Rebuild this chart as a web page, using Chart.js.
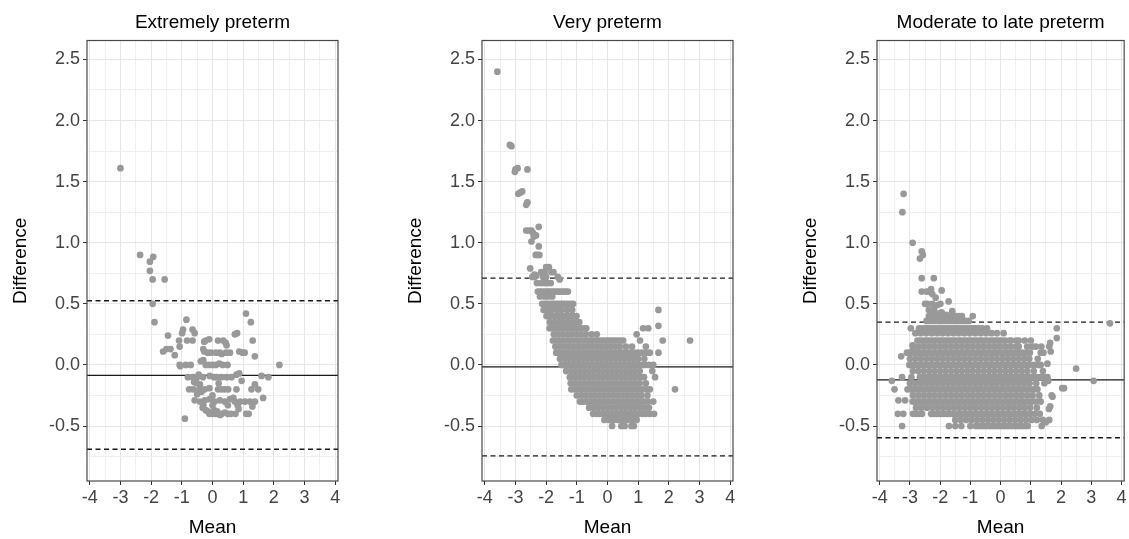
<!DOCTYPE html>
<html><head><meta charset="utf-8">
<script src="https://cdn.jsdelivr.net/npm/chart.js@4.4.1/dist/chart.umd.min.js"></script>
<style>
html,body{margin:0;padding:0;background:#fff;width:1129px;height:539px;overflow:hidden}
.p{position:absolute;top:0;height:539px}
</style></head><body>
<div class="p" style="left:0;width:395px"><canvas id="c0"></canvas></div>
<div class="p" style="left:395px;width:395px"><canvas id="c1"></canvas></div>
<div class="p" style="left:790px;width:339px"><canvas id="c2"></canvas></div>
<script>
// ---------- data ----------
const panelTitles = ['Extremely preterm', 'Very preterm', 'Moderate to late preterm'];
const meanDiff = [-0.085, -0.016, -0.123];
const upperLoA = [0.525, 0.71, 0.35];
const lowerLoA = [-0.69, -0.745, -0.596];
const xRange = [-4.09, 4.09];
const yRange = [-0.95, 2.655];
const xGridVals = [-4,-3.5,-3,-2.5,-2,-1.5,-1,-0.5,0,0.5,1,1.5,2,2.5,3,3.5,4];
const yGridVals = [-0.75,-0.5,-0.25,0,0.25,0.5,0.75,1,1.25,1.5,1.75,2,2.25,2.5];
const xTitle = 'Mean';
const yTitle = 'Difference';

// Extremely preterm: [mean, difference]
const extremePoints = [
[-3.0,1.61],[-2.36,0.9],[-2.04,0.845],[-1.93,0.885],[-2.04,0.77],[-1.95,0.7],[-1.56,0.7],[-1.95,0.5],[-1.89,0.35],
[-0.85,0.37],[-0.96,0.29],[-0.99,0.26],[-0.65,0.29],[-0.58,0.26],[1.09,0.42],[1.25,0.35],[0.73,0.25],[0.8,0.26],[-1.45,0.24],
[-1.09,0.2],[-0.83,0.2],[-0.65,0.2],[-0.27,0.19],[-0.22,0.2],[-0.11,0.21],[0.18,0.2],[0.35,0.2],[0.43,0.18],[0.46,0.16],[1.31,0.2],
[-1.61,0.11],[-1.5,0.13],[-1.37,0.13],[-1.07,0.15],[-1.23,0.08],[-0.3,0.13],[-0.27,0.11],[-0.16,0.1],[-0.05,0.1],[0.11,0.1],[0.24,0.1],[0.3,0.09],[0.44,0.1],[0.57,0.1],[0.87,0.11],[0.98,0.1],[1.05,0.1],[1.38,0.07],
[-1.07,0.0],[-1.05,-0.01],[-0.87,0.0],[-0.71,0.0],[-0.38,0.03],[-0.3,0.04],[-0.22,0.0],[-0.11,0.0],[0.0,0.0],[0.11,0.0],[0.22,0.01],[0.33,0.0],[0.49,0.0],[2.18,0.0],
[-0.8,-0.1],[-0.63,-0.1],[-0.52,-0.11],[-0.45,-0.08],[-0.31,-0.1],[-0.09,-0.09],[0.05,-0.1],[0.13,-0.1],[0.29,-0.1],[0.46,-0.1],[0.62,-0.1],[0.78,-0.08],[0.87,-0.07],[0.95,-0.13],[1.6,-0.09],[1.82,-0.1],[1.38,-0.16],[-0.41,-0.16],[-0.52,-0.15],[0.2,-0.15],[-0.6,-0.14],
[-0.76,-0.2],[-0.63,-0.2],[-0.43,-0.2],[-0.36,-0.22],[-0.25,-0.2],[-0.1,-0.19],[0.18,-0.2],[0.29,-0.2],[0.4,-0.2],[0.51,-0.2],[0.78,-0.2],[1.27,-0.2],[1.49,-0.2],[-0.5,-0.24],[0.0,-0.25],[1.65,-0.27],
[-0.58,-0.29],[-0.41,-0.3],[-0.25,-0.29],[-0.09,-0.28],[0.07,-0.3],[0.24,-0.29],[0.4,-0.3],[0.57,-0.28],[0.68,-0.27],[0.73,-0.3],[0.9,-0.3],[1.06,-0.3],[1.22,-0.3],[1.3,-0.34],[1.38,-0.3],[-0.3,-0.33],[0.0,-0.33],[0.5,-0.33],[0.82,-0.33],
[-0.32,-0.35],[-0.22,-0.37],[-0.15,-0.38],[-0.1,-0.4],[-0.05,-0.39],[0.0,-0.4],[0.05,-0.37],[0.1,-0.4],[0.15,-0.38],[0.2,-0.4],[0.25,-0.41],[0.3,-0.4],[0.4,-0.39],[0.5,-0.4],[0.6,-0.4],[0.75,-0.4],[0.85,-0.36],[1.1,-0.4],[1.18,-0.4],[-0.9,-0.44]
];

// Very preterm: isolated points [mean, difference]
const veryPoints = [
[-3.59,2.4],[-3.18,1.8],[-3.13,1.79],[-3.0,1.6],[-2.93,1.61],[-3.02,1.58],[-2.61,1.6],[-2.91,1.4],[-2.85,1.41],[-2.78,1.42],[-2.65,1.31],[-2.61,1.33],
[-2.65,1.1],[-2.56,1.1],[-2.48,1.1],[-2.43,1.08],[-2.48,1.01],[-2.4,1.05],[-2.33,1.06],[-2.24,1.13],[-2.24,0.97],[-2.34,0.9],[-2.29,0.9],[-2.22,0.9],
[-2.52,0.79],[-2.38,0.74],[-2.32,0.73],[-1.56,0.7],[1.66,0.45],[1.66,0.32],[1.66,0.1],[1.46,-0.05],[1.52,-0.4]
];
// Very preterm: rows of [difference, means]
const veryRows = [
[0.80, [-2.0,-1.91]],
[0.76, [-2.16,-2.05,-1.83,-1.76]],
[0.72, [-2.45,-2.38,-2.1,-2.0,-1.62]],
[0.67, [-2.3,-2.16,-2.05,-1.95,-1.85]],
[0.60, [-2.27,-2.2,-2.12,-2.04,-1.96,-1.9,-1.83,-1.75,-1.68,-1.6,-1.52,-1.44,-1.36,-1.29]],
[0.56, [-2.2,-2.05,-1.93,-1.8]],
[0.50, [-2.13,-2.05,-1.97,-1.88,-1.8,-1.72,-1.64,-1.56,-1.48,-1.4,-1.3,-1.2,-1.12]],
[0.45, [-2.08,-1.95,-1.82,-1.65,-1.5,-1.32,-1.15]],
[0.40, [-1.99,-1.9,-1.82,-1.74,-1.66,-1.58,-1.5,-1.42,-1.34,-1.26,-1.18,-1.09,-1.01]],
[0.35, [-1.88,-1.72,-1.58,-1.44,-1.3,-1.16,-1.02,-0.92]],
[0.30, [-1.89,-1.8,-1.71,-1.62,-1.53,-1.44,-1.35,-1.26,-1.17,-1.08,-0.99,-0.9,-0.8,-0.69,1.16,1.33]],
[0.25, [-1.75,-1.6,-1.45,-1.3,-1.15,-1.0,-0.85,-0.7,-0.52,-0.35,0.95]],
[0.20, [-1.78,-1.68,-1.58,-1.49,-1.4,-1.31,-1.22,-1.13,-1.04,-0.95,-0.86,-0.77,-0.68,-0.59,-0.5,-0.41,-0.32,-0.23,-0.14,-0.05,0.04,0.13,0.22,0.31,0.41,0.51,1.06,1.8,2.69]],
[0.15, [-1.7,-1.55,-1.4,-1.25,-1.1,-0.95,-0.8,-0.65,-0.5,-0.35,-0.2,-0.05,0.1,0.25,0.4,0.6,0.8,1.25]],
[0.10, [-1.67,-1.58,-1.49,-1.4,-1.31,-1.22,-1.13,-1.04,-0.95,-0.86,-0.77,-0.68,-0.59,-0.5,-0.41,-0.32,-0.23,-0.14,-0.05,0.04,0.13,0.22,0.31,0.4,0.49,0.58,0.67,0.76,0.88,1.0,1.12,1.25,1.38]],
[0.05, [-1.55,-1.4,-1.25,-1.1,-0.95,-0.8,-0.65,-0.5,-0.35,-0.2,-0.05,0.1,0.25,0.4,0.55,0.7,0.85,1.0,1.2]],
[0.00, [-1.5,-1.41,-1.32,-1.23,-1.14,-1.05,-0.96,-0.87,-0.78,-0.69,-0.6,-0.51,-0.42,-0.33,-0.24,-0.15,-0.06,0.03,0.12,0.21,0.3,0.39,0.48,0.57,0.66,0.75,0.84,0.93,1.02,1.12,1.22,1.35,1.49]],
[-0.05, [-1.35,-1.2,-1.05,-0.9,-0.75,-0.6,-0.45,-0.3,-0.15,0.0,0.15,0.3,0.45,0.6,0.75,0.9,1.05]],
[-0.10, [-1.23,-1.14,-1.05,-0.96,-0.87,-0.78,-0.69,-0.6,-0.51,-0.42,-0.33,-0.24,-0.15,-0.06,0.03,0.12,0.21,0.3,0.39,0.48,0.57,0.66,0.75,0.84,0.94,1.06,1.19,1.55]],
[-0.15, [-1.2,-1.05,-0.9,-0.75,-0.6,-0.45,-0.3,-0.15,0.0,0.15,0.3,0.45,0.6,0.75,0.9,1.05,1.25]],
[-0.20, [-1.18,-1.07,-0.97,-0.87,-0.77,-0.67,-0.57,-0.47,-0.37,-0.27,-0.17,-0.07,0.03,0.13,0.23,0.33,0.43,0.53,0.63,0.73,0.83,0.93,1.03,1.15,1.27,1.38,2.2]],
[-0.25, [-1.0,-0.85,-0.7,-0.55,-0.4,-0.25,-0.1,0.05,0.2,0.35,0.5,0.65,0.8,0.95,1.1,1.3]],
[-0.30, [-0.9,-0.8,-0.7,-0.6,-0.5,-0.4,-0.3,-0.2,-0.1,0.0,0.1,0.2,0.3,0.4,0.5,0.6,0.7,0.8,0.9,1.0,1.1,1.2,1.32,1.49]],
[-0.35, [-0.6,-0.45,-0.3,-0.15,0.0,0.15,0.3,0.45,0.6,0.75,0.9,1.05,1.2,1.35]],
[-0.40, [-0.47,-0.37,-0.27,-0.17,-0.07,0.03,0.13,0.23,0.33,0.43,0.53,0.63,0.73,0.83,0.93,1.03,1.15,1.25,1.38]],
[-0.45, [-0.1,0.05,0.2,0.35,0.5,0.65,0.8,0.95]],
[-0.50, [0.15,0.45,0.56,0.78,0.86]]
];

// Moderate to late preterm: isolated points [mean, difference]
const latePoints = [
[-3.21,1.40],[-3.25,1.25],[-2.91,1.0],[-2.61,0.93],[-2.57,0.9],[-2.67,0.87],[-2.61,0.71],[-2.21,0.71],
[-2.61,0.6],[-2.45,0.6],[-2.37,0.6],[-2.26,0.58],[-2.15,0.55],[-1.95,0.61],[-2.3,0.62],
[-2.42,0.5],[-2.5,0.5],[-2.26,0.5],[-2.1,0.49],[-1.99,0.5],[-1.72,0.52],
[-2.37,0.45],[-2.3,0.43],[-2.2,0.45],[-2.05,0.42],[-1.95,0.43],[-1.8,0.41],[-1.6,0.44],
[-0.92,0.40],[-2.97,0.3],[1.86,0.3],[1.86,0.22],[3.62,0.34],[2.5,-0.03],[3.08,-0.13],[2.04,-0.19],[2.1,-0.19],
[-3.6,-0.13],[-3.51,-0.2],[-3.29,0.07],[-3.26,-0.5],[-3.4,-0.4],[-3.22,-0.4],[-3.38,-0.29],[-3.16,-0.29],[-3.26,-0.1],[-2.95,-0.1],[-2.91,0.16],[-2.91,0.12],
[1.64,0.18],[1.61,0.15],[1.66,0.11],[1.55,-0.1],[1.58,-0.13],[1.69,-0.25],[1.64,-0.34],[1.6,-0.36],[1.61,-0.45],[1.5,-0.47],[1.36,-0.5],[1.55,0.01],[1.72,-0.26]
];
// Moderate to late preterm: rows of [difference, means]
const lateRows = [
[0.40, [-2.37,-2.28,-2.18,-2.09,-2.0,-1.9,-1.81,-1.72,-1.62,-1.53,-1.44,-1.35,-1.28]],
[0.36, [-2.45,-2.35,-2.24,-2.13,-2.02,-1.92,-1.81,-1.7,-1.6,-1.49,-1.38,-1.27,-1.16,-1.05]],
[0.30, [-2.7,-2.61,-2.52,-2.43,-2.34,-2.25,-2.16,-2.07,-1.98,-1.89,-1.8,-1.71,-1.62,-1.53,-1.44,-1.35,-1.26,-1.17,-1.08,-0.99,-0.9,-0.81,-0.72,-0.6,-0.45]],
[0.26, [-2.82,-2.64,-2.46,-2.28,-2.1,-1.92,-1.74,-1.56,-1.38,-1.2,-1.02,-0.84,-0.66,-0.48,-0.3,-0.12,0.1]],
[0.20, [-2.75,-2.66,-2.57,-2.48,-2.39,-2.3,-2.21,-2.12,-2.03,-1.94,-1.85,-1.76,-1.67,-1.58,-1.49,-1.4,-1.31,-1.22,-1.13,-1.04,-0.95,-0.86,-0.77,-0.68,-0.59,-0.5,-0.41,-0.32,-0.23,-0.14,-0.05,0.05,0.16,0.3,0.35,0.52,0.6,0.8,1.0]],
[0.15, [-2.9,-2.72,-2.54,-2.36,-2.18,-2.0,-1.82,-1.64,-1.46,-1.28,-1.1,-0.92,-0.74,-0.56,-0.38,-0.2,-0.02,0.16,0.34,0.52,0.6,0.88,1.06,1.17,1.35]],
[0.10, [-3.1,-2.98,-2.87,-2.77,-2.68,-2.59,-2.5,-2.41,-2.32,-2.23,-2.14,-2.05,-1.96,-1.87,-1.78,-1.69,-1.6,-1.51,-1.42,-1.33,-1.24,-1.15,-1.06,-0.97,-0.88,-0.79,-0.7,-0.61,-0.52,-0.43,-0.34,-0.25,-0.16,-0.07,0.02,0.11,0.2,0.29,0.38,0.47,0.58,0.7,0.83,0.97,1.33,1.42]],
[0.05, [-3.0,-2.82,-2.64,-2.46,-2.28,-2.1,-1.92,-1.74,-1.56,-1.38,-1.2,-1.02,-0.84,-0.66,-0.48,-0.3,-0.12,0.06,0.24,0.42,0.6,0.78,0.95,1.23]],
[0.00, [-3.02,-2.92,-2.83,-2.74,-2.65,-2.56,-2.47,-2.38,-2.29,-2.2,-2.11,-2.02,-1.93,-1.84,-1.75,-1.66,-1.57,-1.48,-1.39,-1.3,-1.21,-1.12,-1.03,-0.94,-0.85,-0.76,-0.67,-0.58,-0.49,-0.4,-0.31,-0.22,-0.13,-0.04,0.05,0.14,0.23,0.32,0.41,0.5,0.6,0.7,0.82,0.95,1.1,1.25,1.33]],
[-0.05, [-2.9,-2.72,-2.54,-2.36,-2.18,-2.0,-1.82,-1.64,-1.46,-1.28,-1.1,-0.92,-0.74,-0.56,-0.38,-0.2,-0.02,0.16,0.34,0.52,0.7,0.88,1.1,1.4]],
[-0.10, [-2.67,-2.58,-2.49,-2.4,-2.31,-2.22,-2.13,-2.04,-1.95,-1.86,-1.77,-1.68,-1.59,-1.5,-1.41,-1.32,-1.23,-1.14,-1.05,-0.96,-0.87,-0.78,-0.69,-0.6,-0.51,-0.42,-0.33,-0.24,-0.15,-0.06,0.03,0.12,0.21,0.3,0.39,0.48,0.57,0.66,0.75,0.85,0.96,1.08,1.2,1.32,1.45]],
[-0.15, [-3.0,-2.82,-2.64,-2.46,-2.28,-2.1,-1.92,-1.74,-1.56,-1.38,-1.2,-1.02,-0.84,-0.66,-0.48,-0.3,-0.12,0.06,0.24,0.42,0.6,0.78,0.96,1.18,1.45]],
[-0.20, [-3.08,-2.97,-2.87,-2.77,-2.67,-2.58,-2.49,-2.4,-2.31,-2.22,-2.13,-2.04,-1.95,-1.86,-1.77,-1.68,-1.59,-1.5,-1.41,-1.32,-1.23,-1.14,-1.05,-0.96,-0.87,-0.78,-0.69,-0.6,-0.51,-0.42,-0.33,-0.24,-0.15,-0.06,0.03,0.12,0.21,0.3,0.39,0.48,0.57,0.66,0.75,0.85,0.97,1.1,1.22]],
[-0.25, [-2.9,-2.72,-2.54,-2.36,-2.18,-2.0,-1.82,-1.64,-1.46,-1.28,-1.1,-0.92,-0.74,-0.56,-0.38,-0.2,-0.02,0.16,0.34,0.52,0.7,0.88,1.06,1.28]],
[-0.30, [-2.91,-2.81,-2.71,-2.61,-2.52,-2.43,-2.34,-2.25,-2.16,-2.07,-1.98,-1.89,-1.8,-1.71,-1.62,-1.53,-1.44,-1.35,-1.26,-1.17,-1.08,-0.99,-0.9,-0.81,-0.72,-0.63,-0.54,-0.45,-0.36,-0.27,-0.18,-0.09,0.0,0.09,0.18,0.27,0.36,0.45,0.54,0.63,0.72,0.82,0.93,1.05,1.18,1.33]],
[-0.35, [-2.8,-2.62,-2.44,-2.26,-2.08,-1.9,-1.72,-1.54,-1.36,-1.18,-1.0,-0.82,-0.64,-0.46,-0.28,-0.1,0.08,0.26,0.44,0.62,0.8,0.98,1.2]],
[-0.40, [-2.9,-2.8,-2.7,-2.6,-2.3,-2.21,-2.12,-2.03,-1.94,-1.85,-1.76,-1.67,-1.58,-1.49,-1.4,-1.31,-1.22,-1.13,-1.04,-0.95,-0.86,-0.77,-0.68,-0.59,-0.5,-0.41,-0.32,-0.23,-0.14,-0.05,0.04,0.13,0.22,0.31,0.4,0.49,0.58,0.67,0.76,0.86,0.98,1.13,1.3]],
[-0.45, [-1.5,-1.32,-1.14,-0.96,-0.78,-0.6,-0.42,-0.24,-0.06,0.12,0.3,0.48,0.66,0.84,1.02,1.2,1.4]],
[-0.50, [-1.71,-1.5,-1.3,-1.0,-0.82,-0.73,-0.64,-0.55,-0.46,-0.37,-0.28,-0.19,-0.1,-0.01,0.08,0.17,0.26,0.35,0.44,0.53,0.62,0.71,0.8,0.9]]
];

// ---------- build ----------
const FONT = '"Liberation Sans", Arial, sans-serif';
const pairsToPts = a => a.map(([x, y]) => ({x, y}));
const rowsToPts = rows => rows.flatMap(([y, xs]) => xs.map(x => ({x, y})));
const panelPoints = [
  pairsToPts(extremePoints),
  pairsToPts(veryPoints).concat(rowsToPts(veryRows)),
  pairsToPts(latePoints).concat(rowsToPts(lateRows))
];
const isMult = (v, s) => Math.abs(v / s - Math.round(v / s)) < 1e-6;

const framePlugin = {
  id: 'frame',
  afterDraw(chart) {
    const {ctx, chartArea: a} = chart;
    ctx.save();
    ctx.strokeStyle = '#4a4a4a';
    ctx.lineWidth = 1.2;
    ctx.strokeRect(a.left, a.top, a.right - a.left, a.bottom - a.top);
    ctx.restore();
  }
};

function hline(v, dash) {
  return {
    data: [{x: xRange[0], y: v}, {x: xRange[1], y: v}],
    showLine: true, pointRadius: 0, borderColor: '#1a1a1a', borderWidth: 1.3,
    borderDash: dash, fill: false, order: 1
  };
}

function makeChart(id, i, padRight) {
  new Chart(document.getElementById(id), {
    type: 'scatter',
    data: {
      datasets: [
        {data: panelPoints[i], pointRadius: 3.35, pointBackgroundColor: '#999999',
         pointBorderWidth: 0, borderWidth: 0, borderColor: 'rgba(0,0,0,0)', order: 0},
        hline(meanDiff[i], []),
        hline(upperLoA[i], [5, 3.5]),
        hline(lowerLoA[i], [5, 3.5])
      ]
    },
    options: {
      responsive: true, maintainAspectRatio: false, animation: false, events: [],
      layout: {padding: {top: 0, left: 0, bottom: 0, right: padRight}},
      plugins: {
        legend: {display: false}, tooltip: {enabled: false},
        title: {display: true, text: panelTitles[i], fullSize: false, color: '#000',
                font: {family: FONT, size: 19, weight: 'normal'}, padding: {top: 11.2, bottom: 6.5}}
      },
      scales: {
        x: {
          type: 'linear', min: xRange[0], max: xRange[1],
          afterBuildTicks: s => { s.ticks = xGridVals.map(v => ({value: v})); },
          afterFit: s => { s.height = 58; },
          ticks: {autoSkip: false, maxRotation: 0, color: '#444', padding: 2.5,
                  font: {family: FONT, size: 18},
                  callback: v => isMult(v, 1) ? String(Math.round(v)) : ''},
          grid: {color: c => isMult(c.tick.value, 1) ? '#e6e6e6' : '#efefef', lineWidth: 1,
                 tickLength: 4, tickWidth: 1,
                 tickColor: c => isMult(c.tick.value, 1) ? '#333' : 'rgba(0,0,0,0)'},
          border: {display: false},
          title: {display: true, text: xTitle, color: '#000', font: {family: FONT, size: 19},
                  padding: {top: 0, bottom: 0}}
        },
        y: {
          type: 'linear', min: yRange[0], max: yRange[1],
          afterBuildTicks: s => { s.ticks = yGridVals.map(v => ({value: v})); },
          afterFit: s => { s.width = 87; },
          ticks: {autoSkip: false, color: '#444', padding: 3,
                  font: {family: FONT, size: 18},
                  callback: v => isMult(v, 0.5) ? v.toFixed(1) : ''},
          grid: {color: c => isMult(c.tick.value, 0.5) ? '#e6e6e6' : '#efefef', lineWidth: 1,
                 tickLength: 4, tickWidth: 1,
                 tickColor: c => isMult(c.tick.value, 0.5) ? '#333' : 'rgba(0,0,0,0)'},
          border: {display: false},
          title: {display: true, text: yTitle, color: '#000', font: {family: FONT, size: 19},
                  padding: {top: 9, bottom: 0}}
        }
      }
    },
    plugins: [framePlugin]
  });
}

makeChart('c0', 0, 57);
makeChart('c1', 1, 57);
makeChart('c2', 2, 1);
</script>
</body></html>
